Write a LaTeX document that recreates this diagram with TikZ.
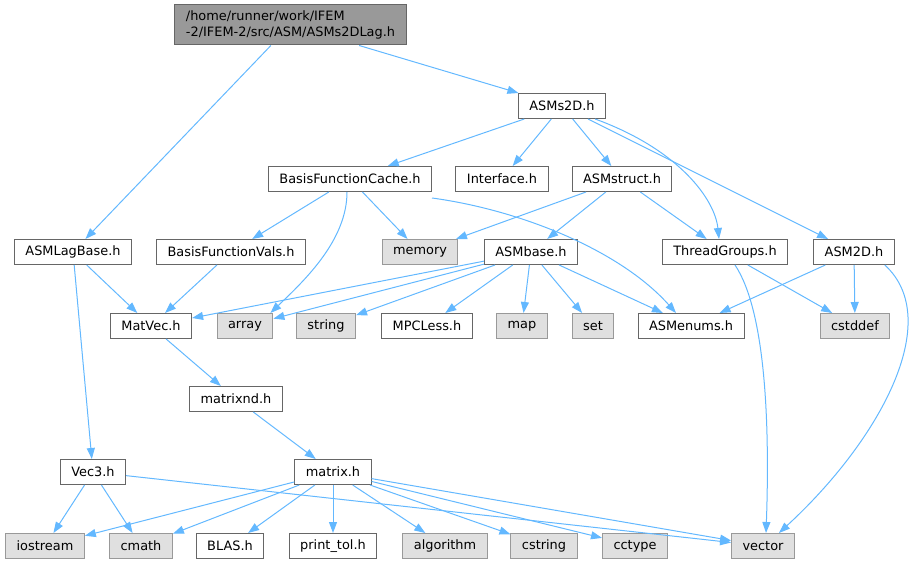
\documentclass[tikz,border=0pt]{standalone}
\usepackage{fontspec}
\setmainfont{DejaVu Sans}
\usetikzlibrary{arrows.meta}
\definecolor{depblue}{HTML}{63B8FF}
\begin{document}
\begin{tikzpicture}[x=1pt,y=-1pt,
  every node/.style={font=\fontsize{12.9}{16}\selectfont, inner xsep=11pt, minimum height=25pt, line width=1pt},
  file/.style={draw=black!60, fill=white},
  sys/.style={draw=black!40, fill=black!12},
  root/.style={draw=black!60, fill=black!40, align=left, minimum height=40pt},
  dep/.style={draw=depblue, line width=1pt, -{Triangle[length=11pt,width=8pt]}}]
\useasboundingbox (0,0) rectangle (912,564);
\node[root] (asms2dlag) at (290.5,25) {/home/runner/work/IFEM\\-2/IFEM-2/src/ASM/ASMs2DLag.h};
\node[file] (asms2d) at (562,106) {ASMs2D.h};
\node[file] (basiscache) at (350,179) {BasisFunctionCache.h};
\node[file] (interface) at (502,179) {Interface.h};
\node[file] (asmstruct) at (622,179) {ASMstruct.h};
\node[file] (asmlagbase) at (73,252) {ASMLagBase.h};
\node[file] (basisvals) at (231,252) {BasisFunctionVals.h};
\node[sys] (memory) at (420,252) {memory};
\node[file] (asmbase) at (531,252) {ASMbase.h};
\node[file] (threadgroups) at (725,252) {ThreadGroups.h};
\node[file] (asm2d) at (854,252) {ASM2D.h};
\node[file] (matvec) at (151,326) {MatVec.h};
\node[sys] (array) at (245,326) {array};
\node[sys] (string) at (326,326) {string};
\node[file] (mpcless) at (427,326) {MPCLess.h};
\node[sys] (map) at (522,326) {map};
\node[sys] (set) at (593,326) {set};
\node[file] (asmenums) at (691,326) {ASMenums.h};
\node[sys] (cstddef) at (855,326) {cstddef};
\node[file] (matrixnd) at (236,399) {matrixnd.h};
\node[file] (vec3) at (93,472) {Vec3.h};
\node[file] (matrix) at (333,472) {matrix.h};
\node[sys] (iostream) at (45,546) {iostream};
\node[sys] (cmath) at (141,546) {cmath};
\node[file] (blas) at (230,546) {BLAS.h};
\node[file] (printtol) at (333,546) {print\_tol.h};
\node[sys] (algorithm) at (445,546) {algorithm};
\node[sys] (cstring) at (544,546) {cstring};
\node[sys] (cctype) at (635,546) {cctype};
\node[sys] (vector) at (763,546) {vector};
\draw[dep] (asms2dlag) -- (asms2d);
\draw[dep] (asms2dlag) -- (asmlagbase);
\draw[dep] (asms2d) -- (basiscache);
\draw[dep] (asms2d) -- (interface);
\draw[dep] (asms2d) -- (asmstruct);
\draw[dep] ([xshift=-11pt]asms2d.south east) .. controls (680,150) and (715,200) .. ([xshift=-6pt]threadgroups.north);
\draw[dep] (asms2d) -- (asm2d);
\draw[dep] (basiscache) -- (basisvals);
\draw[dep] ([xshift=-3pt]basiscache.south) .. controls (347,240) and (305,280) .. ([xshift=-3pt]array.north east);
\draw[dep] (basiscache) -- (memory);
\draw[dep] ([yshift=-6pt]basiscache.south east) .. controls (520,210) and (620,250) .. ([xshift=-15pt]asmenums.north);
\draw[dep] (asmstruct) -- (memory);
\draw[dep] (asmstruct) -- (asmbase);
\draw[dep] (asmstruct) -- (threadgroups);
\draw[dep] (asmlagbase) -- (matvec);
\draw[dep] (asmlagbase) -- (vec3);
\draw[dep] (basisvals) -- (matvec);
\draw[dep] (asmbase) -- (matvec);
\draw[dep] (asmbase) -- (array);
\draw[dep] (asmbase) -- (string);
\draw[dep] (asmbase) -- (mpcless);
\draw[dep] (asmbase) -- (map);
\draw[dep] (asmbase) -- (set);
\draw[dep] (asmbase) -- (asmenums);
\draw[dep] (threadgroups) -- (cstddef);
\draw[dep] ([xshift=10pt]threadgroups.south) .. controls (765,310) and (770,420) .. ([xshift=3pt]vector.north);
\draw[dep] (asm2d) -- (asmenums);
\draw[dep] (asm2d) -- (cstddef);
\draw[dep] ([xshift=-10pt]asm2d.south east) .. controls (945,320) and (880,440) .. ([xshift=-16pt]vector.north east);
\draw[dep] (matvec) -- (matrixnd);
\draw[dep] (matrixnd) -- (matrix);
\draw[dep] (vec3) -- (iostream);
\draw[dep] (vec3) -- (cmath);
\draw[dep] (vec3) -- (vector);
\draw[dep] (matrix) -- (iostream);
\draw[dep] (matrix) -- (cmath);
\draw[dep] (matrix) -- (blas);
\draw[dep] (matrix) -- (printtol);
\draw[dep] (matrix) -- (algorithm);
\draw[dep] (matrix) -- (cstring);
\draw[dep] (matrix) -- (cctype);
\draw[dep] (matrix) -- (vector);
\end{tikzpicture}
\end{document}
